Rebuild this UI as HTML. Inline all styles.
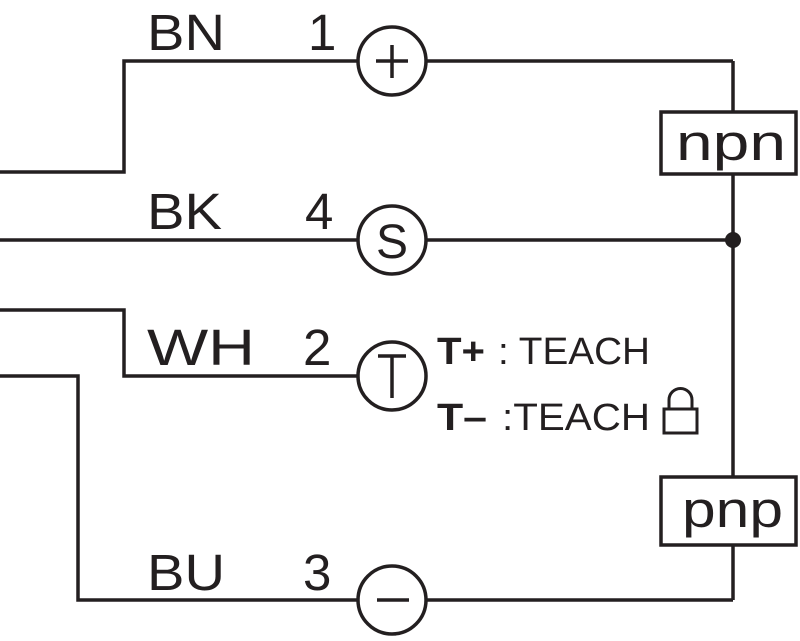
<!DOCTYPE html>
<html><head><style>body{margin:0;background:#fff}</style></head><body>
<svg width="800" height="636" viewBox="0 0 800 636" xmlns="http://www.w3.org/2000/svg">
<g fill="none" stroke="#231f20" stroke-width="3.5">
<polyline points="0,172 124,172 124,61 358,61"/>
<line x1="426" y1="61" x2="733" y2="61"/>
<line x1="0" y1="240" x2="358" y2="240"/>
<line x1="426" y1="240" x2="733" y2="240"/>
<polyline points="0,310 124,310 124,376 358,376"/>
<polyline points="0,376 78,376 78,600 358,600"/>
<line x1="426" y1="600" x2="733" y2="600"/>
<line x1="733" y1="61" x2="733" y2="600"/>
<circle cx="392" cy="61" r="34"/>
<circle cx="392" cy="240" r="34"/>
<circle cx="392" cy="376" r="34"/>
<circle cx="392" cy="600" r="34"/>
<rect x="661" y="112" width="135" height="62" fill="#fff"/>
<rect x="661" y="477" width="135" height="68" fill="#fff"/>
<line x1="376" y1="61" x2="408" y2="61"/>
<line x1="392" y1="45" x2="392" y2="78"/>
<line x1="377" y1="600" x2="409" y2="600"/>
<line x1="392" y1="355" x2="392" y2="398" stroke-width="3.5"/>
<line x1="378" y1="356" x2="406" y2="356" stroke-width="3.5"/>
<rect x="664" y="409" width="33" height="24" stroke-width="3"/>
<path d="M669,409 V400 A11,11 0 0 1 692,400 V409" stroke-width="3"/>
</g>
<circle cx="733" cy="240" r="8" fill="#231f20"/>
<g font-family="Liberation Sans, sans-serif" fill="#231f20" font-size="51">
<text x="147" y="50" textLength="78" lengthAdjust="spacingAndGlyphs">BN</text>
<text x="308" y="50">1</text>
<text x="147" y="229" textLength="75" lengthAdjust="spacingAndGlyphs">BK</text>
<text x="305" y="229">4</text>
<text x="147" y="365" textLength="108" lengthAdjust="spacingAndGlyphs">WH</text>
<text x="303" y="365">2</text>
<text x="147" y="590" textLength="78" lengthAdjust="spacingAndGlyphs">BU</text>
<text x="303" y="590">3</text>
<text x="376" y="258" font-size="48">S</text>
<text x="676" y="160" textLength="110" lengthAdjust="spacingAndGlyphs">npn</text>
<text x="682" y="527" textLength="101" lengthAdjust="spacingAndGlyphs">pnp</text>
</g>
<g font-family="Liberation Sans, sans-serif" fill="#231f20" font-size="38">
<text x="437" y="364" font-weight="bold" textLength="48" lengthAdjust="spacingAndGlyphs">T+</text>
<text x="498" y="364" textLength="152" lengthAdjust="spacingAndGlyphs">: TEACH</text>
<text x="437" y="430" font-weight="bold" textLength="50" lengthAdjust="spacingAndGlyphs">T–</text>
<text x="502" y="430" textLength="148" lengthAdjust="spacingAndGlyphs">:TEACH</text>
</g>
</svg>
</body></html>
